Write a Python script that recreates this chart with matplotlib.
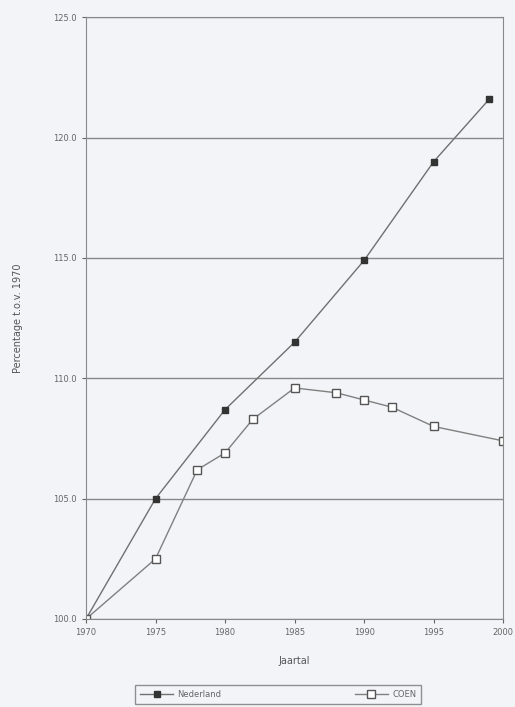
import matplotlib.pyplot as plt

ned_years = [1970, 1975, 1980, 1985, 1990, 1995, 1999]
ned_values = [100.0, 105.0, 108.7, 111.5, 114.9, 119.0, 121.6]

coen_years = [1970, 1975, 1978, 1980, 1982, 1985, 1988, 1990, 1992, 1995, 2000]
coen_values = [100.0, 102.5, 106.2, 106.9, 108.3, 109.6, 109.4, 109.1, 108.8, 108.0, 107.4]

x_ticks = [1970, 1975, 1980, 1985, 1990, 1995, 2000]
y_ticks = [100, 105, 110, 115, 120, 125]

bg = "#f3f4f8"
plt.rcParams["font.family"] = "DejaVu Sans"

fig = plt.figure(figsize=(5.15, 7.07), dpi=100, facecolor=bg)
ax = fig.add_axes([0.167, 0.1245, 0.81, 0.851], facecolor=bg)

ax.plot(ned_years, ned_values, color="#707070", linewidth=1.0, marker="s",
        markersize=5, markerfacecolor="#333333", markeredgecolor="#333333", label="Nederland")
ax.plot(coen_years, coen_values, color="#808080", linewidth=1.0, marker="s",
        markersize=6, markerfacecolor="white", markeredgecolor="#555555", label="COEN")

ax.set_xlim(1970, 2000)
ax.set_ylim(100, 125)
ax.set_xticks(x_ticks)
ax.set_yticks(y_ticks)
ax.set_yticklabels([f"{v:.1f}" for v in y_ticks])
ax.tick_params(labelsize=6, colors="#666666", length=3)
ax.grid(axis="y", color="#888888", linewidth=1.0)
for s in ax.spines.values():
    s.set_color("#888888")
ax.set_xlabel("Jaartal", fontsize=7, color="#555555", labelpad=14)
ax.set_ylabel("Percentage t.o.v. 1970", fontsize=7, color="#555555", labelpad=22)

leg = fig.legend(loc="upper center", bbox_to_anchor=(0.54, 0.031), ncol=2, fontsize=6,
                 frameon=True, fancybox=False, edgecolor="#777777", facecolor=bg,
                 columnspacing=16, handlelength=4, borderpad=0.6, handletextpad=0.5,
                 borderaxespad=0)
for t in leg.get_texts():
    t.set_color("#666666")

fig.savefig("out.png", dpi=100, facecolor=bg)
